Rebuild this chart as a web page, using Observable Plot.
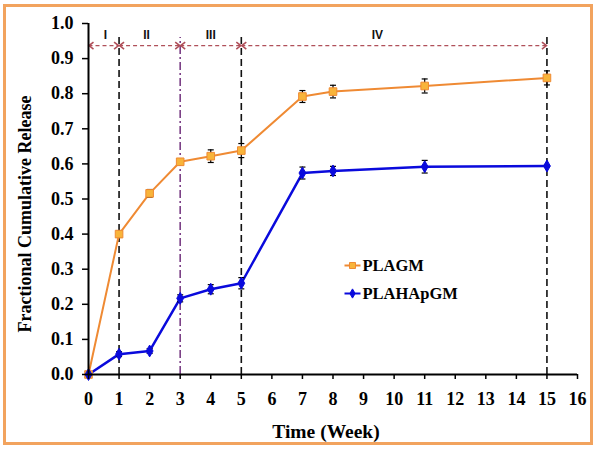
<!DOCTYPE html>
<html><head><meta charset="utf-8">
<script src="https://cdn.jsdelivr.net/npm/d3@7"></script>
<script src="https://cdn.jsdelivr.net/npm/@observablehq/plot@0.6"></script>
<style>
body{margin:0;background:#fff;}
#wrap{position:relative;width:599px;height:450px;overflow:hidden;}
#wrap svg{position:absolute;left:0;top:0;}
#border{position:absolute;left:3px;top:4px;width:584px;height:435px;border:3px solid #f2a35e;pointer-events:none;}
</style></head><body><div id="wrap"><div id="border"></div></div>
<script>
// ---- data ----
const weeks = [0, 1, 2, 3, 4, 5, 7, 8, 11, 15];
const plagm = [0, 0.400, 0.516, 0.606, 0.622, 0.638, 0.792, 0.806, 0.822, 0.845];
const plagmErr = [0, 0.008, 0.011, 0.008, 0.018, 0.020, 0.017, 0.018, 0.020, 0.020];
const plahapgm = [0, 0.058, 0.067, 0.217, 0.243, 0.260, 0.574, 0.580, 0.592, 0.594];
const plahapgmErr = [0, 0.007, 0.007, 0.010, 0.013, 0.016, 0.017, 0.013, 0.018, 0.003];
const seriesNames = ["PLAGM", "PLAHApGM"];
const phaseBounds = [0, 1, 3, 5, 15];
const phaseLabels = ["I", "II", "III", "IV"];
const phaseLabelX = [0.55, 1.9, 4, 9.45];
const xTicks = d3.range(0, 17);
const yTicks = d3.range(0, 11).map(d => d / 10);

// ---- derived tables ----
const rowsA = weeks.map((w, i) => ({week: w, v: plagm[i], e: plagmErr[i]}));
const rowsB = weeks.map((w, i) => ({week: w, v: plahapgm[i], e: plahapgmErr[i]}));
const phases = phaseLabels.map((l, i) => ({label: l, x1: phaseBounds[i], x2: phaseBounds[i + 1], lx: phaseLabelX[i]}));
const blackBounds = phaseBounds.slice(1).filter(b => b !== 3);
const purpleBounds = phaseBounds.slice(1).filter(b => b === 3);

const orange = "#ef8a33", orangeFill = "#f8b43a", blue = "#0a0adc", arrowCol = "#b0505a";
const serif = "Liberation Serif, 'Times New Roman', serif";
const hline = w => ({draw(ctx) { ctx.moveTo(-w, 0); ctx.lineTo(w, 0); }});
const chevL = {draw(ctx) { ctx.moveTo(5, -3.5); ctx.lineTo(0.5, 0); ctx.lineTo(5, 3.5); }};
const chevR = {draw(ctx) { ctx.moveTo(-5, -3.5); ctx.lineTo(-0.5, 0); ctx.lineTo(-5, 3.5); }};
const arrowTop = 0.937, vTop = 0.96, labelY = 0.968;

const errMarks = rows => [
  Plot.ruleX(rows.filter(d => d.e > 0), {x: "week", y1: d => d.v - d.e, y2: d => d.v + d.e, stroke: "#000", strokeWidth: 1.2}),
  Plot.dot(rows.filter(d => d.e > 0), {x: "week", y: d => d.v - d.e, symbol: hline(3), fill: "none", stroke: "#000", strokeWidth: 1.2}),
  Plot.dot(rows.filter(d => d.e > 0), {x: "week", y: d => d.v + d.e, symbol: hline(3), fill: "none", stroke: "#000", strokeWidth: 1.2})
];

const legend = (i, symbol, stroke, fill, sw, r) => [
  Plot.dot([0], {frameAnchor: "top-left", dx: 264, dy: 242 + i * 28, symbol: hline(8), fill: "none", stroke, strokeWidth: sw}),
  Plot.dot([0], {frameAnchor: "top-left", dx: 264, dy: 242 + i * 28, symbol, r, fill, stroke: fill === orangeFill ? orange : fill, strokeWidth: 1}),
  Plot.text([seriesNames[i]], {frameAnchor: "top-left", dx: 274, dy: 242 + i * 28, text: d => d, textAnchor: "start", lineAnchor: "middle", fontSize: 16.5, fontWeight: "bold", fontFamily: serif, fill: "#000"})
];

const chart = Plot.plot({
  width: 599, height: 450,
  marginLeft: 88, marginRight: 22, marginTop: 23, marginBottom: 76,
  style: {background: "transparent", overflow: "visible"},
  x: {domain: [0, 16]},
  y: {domain: [0, 1]},
  marks: [
    Plot.ruleX(blackBounds, {y1: 0, y2: vTop, stroke: "#111", strokeWidth: 1.6, strokeDasharray: "7,4"}),
    Plot.ruleX(purpleBounds, {y1: 0, y2: vTop, stroke: "#7b3f86", strokeWidth: 1.6, strokeDasharray: "8,3,2,3"}),
    Plot.link(phases, {x1: "x1", x2: "x2", y1: arrowTop, y2: arrowTop, stroke: arrowCol, strokeWidth: 1.4, strokeDasharray: "4,3", insetLeft: 2, insetRight: 2}),
    Plot.dot(phases, {x: "x1", y: arrowTop, symbol: chevL, fill: "none", stroke: arrowCol, strokeWidth: 1.6}),
    Plot.dot(phases, {x: "x2", y: arrowTop, symbol: chevR, fill: "none", stroke: arrowCol, strokeWidth: 1.6}),
    Plot.text(phases, {x: "lx", y: labelY, text: "label", fontSize: 12, fontWeight: "bold", fontFamily: "Liberation Sans, Arial, sans-serif", fill: "#111"}),
    Plot.line(rowsA, {x: "week", y: "v", stroke: orange, strokeWidth: 2}),
    Plot.line(rowsB, {x: "week", y: "v", stroke: blue, strokeWidth: 2.5}),
    ...errMarks(rowsA),
    ...errMarks(rowsB),
    Plot.dot(rowsA, {x: "week", y: "v", symbol: "square", r: 4.3, fill: orangeFill, stroke: orange, strokeWidth: 1}),
    Plot.dot(rowsB, {x: "week", y: "v", symbol: "diamond", r: 3.6, fill: blue, stroke: blue, strokeWidth: 1}),
    Plot.ruleX([0], {stroke: "#000", strokeWidth: 2}),
    Plot.ruleY([0], {stroke: "#000", strokeWidth: 2}),
    Plot.axisX({ticks: xTicks, tickFormat: d => d, tickSize: 5, tickPadding: 13, strokeWidth: 1.5, fontSize: 18, fontWeight: "bold", fontFamily: serif, fill: "#000", label: null}),
    Plot.axisY({ticks: yTicks, tickFormat: d3.format(".1f"), tickSize: 6, tickPadding: 9, strokeWidth: 1.5, fontSize: 18, fontWeight: "bold", fontFamily: serif, fill: "#000", label: null}),
    Plot.text(["Time (Week)"], {frameAnchor: "bottom", dx: -7, dy: 57, text: d => d, textAnchor: "middle", fontSize: 19.5, fontWeight: "bold", fontFamily: serif, fill: "#000", lineAnchor: "middle"}),
    Plot.text(["Fractional Cumulative Release"], {frameAnchor: "left", dx: -63, dy: 15, rotate: -90, text: d => d, textAnchor: "middle", fontSize: 18, fontWeight: "bold", fontFamily: serif, fill: "#000", lineAnchor: "middle"}),
    ...legend(0, "square", orange, orangeFill, 2, 3.4),
    ...legend(1, "diamond", blue, blue, 2, 2.8)
  ]
});
document.getElementById("wrap").prepend(chart);
</script>
</body></html>
